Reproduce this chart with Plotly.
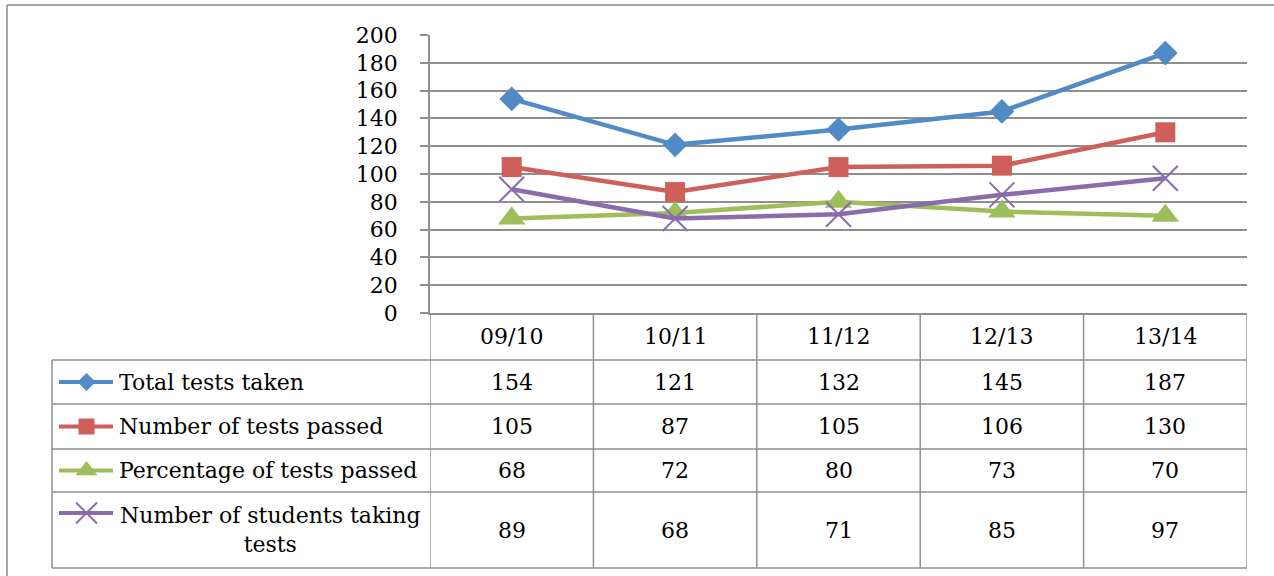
import plotly.graph_objects as go

categories = ["09/10", "10/11", "11/12", "12/13", "13/14"]
total_tests = [154, 121, 132, 145, 187]
tests_passed = [105, 87, 105, 106, 130]
pct_passed = [68, 72, 80, 73, 70]
students = [89, 68, 71, 85, 97]
series_names = ["Total tests taken", "Number of tests passed",
                "Percentage of tests passed", "Number of students taking tests"]
y_ticks = [0, 20, 40, 60, 80, 100, 120, 140, 160, 180, 200]

W, H = 1274, 576
FONT = "DejaVu Serif"
FS = 22
GRID = "#8f8f8f"

colors = ["#508BC8", "#CF5F5A", "#9DBE5B", "#8A6BAC"]
symbols = ["diamond", "square", "triangle-up", "x-thin"]
msizes = [19, 20, 24, 25]
key_sizes = [14, 16, 19, 21]
series = [total_tests, tests_passed, pct_passed, students]

# plot area in pixels
PL, PR, PT, PB = 430, 1247, 35, 313
TL = 52
row_edges = [313, 360, 404, 449, 492, 568]


def fx(x):
    return x / W


def fy(y):
    return 1 - y / H


fig = go.Figure()

for name, vals, c, s, ms in zip(series_names, series, colors, symbols, msizes):
    fig.add_trace(go.Scatter(
        x=categories, y=vals, name=name, mode="lines+markers",
        line=dict(color=c, width=4.5),
        marker=dict(symbol=s, size=ms, color=c,
                    line=dict(color=c, width=2 if s == "x-thin" else 0)),
        cliponaxis=False, showlegend=False, xaxis="x", yaxis="y"))

# legend keys inside table (overlay pixel axes)
for i, (c, s, ks) in enumerate(zip(colors, symbols, key_sizes)):
    r0, r1 = row_edges[i + 1], row_edges[i + 2]
    yc = (r0 + r1) / 2 if i < 3 else r0 + 21
    fig.add_trace(go.Scatter(x=[59, 113], y=[yc, yc], mode="lines",
                             line=dict(color=c, width=4), showlegend=False,
                             xaxis="x2", yaxis="y2", hoverinfo="skip"))
    fig.add_trace(go.Scatter(x=[86.5], y=[yc], mode="markers",
                             marker=dict(symbol=s, size=ks, color=c,
                                         line=dict(color=c, width=2 if s == "x-thin" else 0)),
                             showlegend=False, xaxis="x2", yaxis="y2", hoverinfo="skip"))

shapes = []
line = dict(color=GRID, width=1.5)
# horizontal table lines
for y in row_edges[1:]:
    shapes.append(dict(type="line", xref="paper", yref="paper",
                       x0=fx(TL), x1=fx(PR), y0=fy(y), y1=fy(y), line=line))
# left table edge
shapes.append(dict(type="line", xref="paper", yref="paper",
                   x0=fx(TL), x1=fx(TL), y0=fy(row_edges[1]), y1=fy(row_edges[-1]), line=line))
# column boundaries
for k in range(len(categories) + 1):
    shapes.append(dict(type="line", xref="x", yref="paper",
                       x0=k - 0.5, x1=k - 0.5, y0=fy(PB), y1=fy(row_edges[-1]), line=line))
# outer chart border (top and left)
border = dict(color="#A6A6A6", width=2)
shapes.append(dict(type="line", xref="paper", yref="paper",
                   x0=fx(7), x1=1, y0=fy(5), y1=fy(5), line=border))
shapes.append(dict(type="line", xref="paper", yref="paper",
                   x0=fx(7), x1=fx(7), y0=fy(5), y1=0, line=border))

annotations = []
font = dict(family=FONT, size=FS, color="#000000")
# header categories
for cat in categories:
    annotations.append(dict(x=cat, xref="x", y=fy((row_edges[0] + row_edges[1]) / 2), yref="paper",
                            text=cat, showarrow=False, font=font, xanchor="center", yanchor="middle"))
# values
for i, vals in enumerate(series):
    r0, r1 = row_edges[i + 1], row_edges[i + 2]
    for cat, v in zip(categories, vals):
        annotations.append(dict(x=cat, xref="x", y=fy((r0 + r1) / 2), yref="paper",
                                text=str(v), showarrow=False, font=font,
                                xanchor="center", yanchor="middle"))
# series names
for i, name in enumerate(series_names):
    r0, r1 = row_edges[i + 1], row_edges[i + 2]
    if i < 3:
        annotations.append(dict(x=fx(117), xref="paper", y=fy((r0 + r1) / 2), yref="paper",
                                text=name, showarrow=False, font=font,
                                xanchor="left", yanchor="middle"))
    else:
        annotations.append(dict(x=fx(270), xref="paper", y=fy((r0 + r1) / 2), yref="paper",
                                text="Number of students taking<br>tests", showarrow=False,
                                font=font, xanchor="center", yanchor="middle", align="center"))

fig.update_layout(
    width=W, height=H,
    margin=dict(l=0, r=0, t=0, b=0, pad=0, autoexpand=False),
    paper_bgcolor="white", plot_bgcolor="rgba(0,0,0,0)",
    xaxis=dict(domain=[fx(PL), fx(PR)], range=[-0.5, 4.5], type="category",
               showticklabels=False, ticks="", showgrid=False, zeroline=False,
               showline=True, linecolor=GRID, linewidth=1.5, anchor="y", automargin=False),
    yaxis=dict(domain=[fy(PB), fy(PT)], range=[0, 200], tickvals=y_ticks,
               showgrid=True, gridcolor=GRID, gridwidth=1.5, zeroline=False,
               showline=True, linecolor=GRID, linewidth=1.5,
               ticks="outside", ticklen=8, tickcolor=GRID, tickwidth=1.5,
               ticklabelstandoff=18, automargin=False,
               tickfont=dict(family=FONT, size=FS, color="#000000"), anchor="x"),
    xaxis2=dict(domain=[0, 1], range=[0, W], visible=False, anchor="y2", automargin=False),
    yaxis2=dict(domain=[0, 1], range=[H, 0], visible=False, anchor="x2", automargin=False),
    shapes=shapes, annotations=annotations,
)

fig.write_html("out.html", config={"displayModeBar": False},
               post_script="document.body.style.margin='0';document.body.style.overflow='hidden';")
